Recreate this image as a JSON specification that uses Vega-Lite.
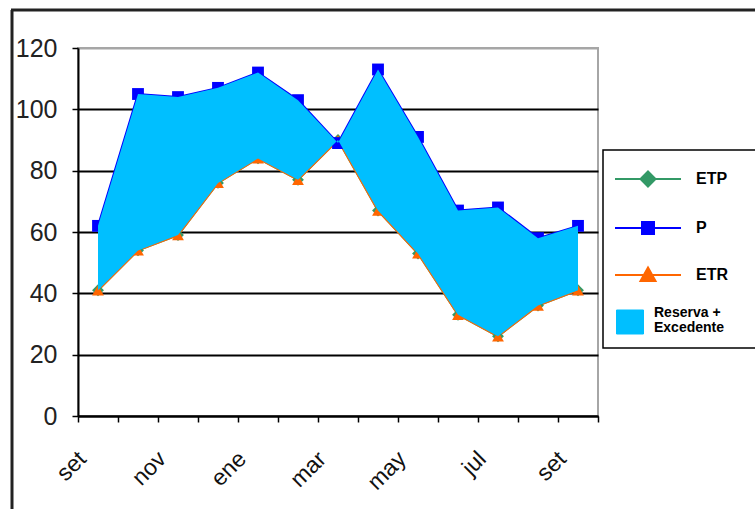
{
  "$schema": "https://vega.github.io/schema/vega-lite/v6.json",
  "width": 520,
  "height": 368,
  "autosize": {"type": "none"},
  "padding": {"left": 78, "top": 48, "right": 157, "bottom": 93},
  "background": "white",
  "config": {
    "font": "Liberation Sans",
    "view": {"stroke": "#a6a6a6", "strokeWidth": 2},
    "axisX": {
      "title": null,
      "grid": false,
      "domainColor": "#000",
      "domainWidth": 2,
      "tickColor": "#000",
      "tickWidth": 1.5,
      "tickSize": 6,
      "tickBand": "extent",
      "labelAngle": -45,
      "labelAlign": "right",
      "labelBaseline": "middle",
      "labelOffset": -16,
      "labelPadding": 33,
      "labelFont": "Liberation Sans",
      "labelFontSize": 23,
      "labelColor": "#111"
    },
    "axisY": {
      "title": null,
      "domainColor": "#000",
      "domainWidth": 2,
      "tickColor": "#000",
      "tickWidth": 1.5,
      "tickSize": 6,
      "labelPadding": 15,
      "labelFont": "Liberation Sans",
      "labelFontSize": 25,
      "labelColor": "#222",
      "gridWidth": 2,
      "gridOpacity": 1
    },
    "legend": {
      "title": null,
      "orient": "none",
      "legendX": 525,
      "legendY": 102,
      "padding": 12,
      "strokeColor": "#000",
      "strokeWidth": 1.5,
      "fillColor": "#fff",
      "symbolSize": 900,
      "symbolOffset": 25,
      "labelOffset": 40,
      "rowPadding": 20,
      "labelFont": "Liberation Sans",
      "labelFontSize": 16,
      "labelFontWeight": "bold",
      "labelColor": "#000",
      "labelLimit": 300
    }
  },
  "data": {
    "values": [
      {"mes": "set", "P": 62, "ETP": 41, "ETR": 41},
      {"mes": "oct", "P": 105, "ETP": 54, "ETR": 54},
      {"mes": "nov", "P": 104, "ETP": 59, "ETR": 59},
      {"mes": "dic", "P": 107, "ETP": 76, "ETR": 76},
      {"mes": "ene", "P": 112, "ETP": 84, "ETR": 84},
      {"mes": "feb", "P": 103, "ETP": 77, "ETR": 77},
      {"mes": "mar", "P": 89, "ETP": 90, "ETR": 90},
      {"mes": "abr", "P": 113, "ETP": 67, "ETR": 67},
      {"mes": "may", "P": 91, "ETP": 53, "ETR": 53},
      {"mes": "jun", "P": 67, "ETP": 33, "ETR": 33},
      {"mes": "jul", "P": 68, "ETP": 26, "ETR": 26},
      {"mes": "ago", "P": 58, "ETP": 36, "ETR": 36},
      {"mes": "set ", "P": 62, "ETP": 41, "ETR": 41}
    ]
  },
  "encoding": {
    "x": {
      "field": "mes",
      "type": "ordinal",
      "scale": {
        "type": "band",
        "paddingInner": 0,
        "paddingOuter": 0,
        "domain": ["set", "oct", "nov", "dic", "ene", "feb", "mar", "abr", "may", "jun", "jul", "ago", "set "]
      },
      "axis": {
        "labelExpr": "indexof(['set', 'nov', 'ene', 'mar', 'may', 'jul', 'set '], datum.value) >= 0 ? trim(datum.value) : ''"
      }
    }
  },
  "layer": [
    {
      "data": {"values": [{}]},
      "mark": {"type": "rule", "stroke": "#222", "strokeWidth": 3},
      "encoding": {
        "x": {"value": -66},
        "y": {"value": -38},
        "y2": {"value": 470}
      }
    },
    {
      "data": {"values": [{}]},
      "mark": {"type": "rule", "stroke": "#222", "strokeWidth": 3},
      "encoding": {
        "x": {"value": -67},
        "x2": {"value": 690},
        "y": {"value": -38}
      }
    },
    {
      "transform": [{"fold": ["ETP", "ETR", "P"], "as": ["serie", "valor"]}],
      "encoding": {
        "y": {
          "field": "valor",
          "type": "quantitative",
          "scale": {"domain": [0, 120], "nice": false},
          "axis": {
            "values": [0, 20, 40, 60, 80, 100, 120],
            "gridColor": {"condition": {"test": "datum.value === 120", "value": "#a6a6a6"}, "value": "#000"}
          }
        },
        "color": {
          "field": "serie",
          "type": "nominal",
          "scale": {
            "domain": ["ETP", "P", "ETR", "Reserva + Excedente"],
            "range": ["#339966", "#0000ff", "#ff6600", "#00bfff"]
          },
          "legend": {
            "labelExpr": "datum.label === 'Reserva + Excedente' ? ['Reserva +', 'Excedente'] : datum.label",
            "encode": {
              "symbols": {
                "update": {
                  "y": {"signal": "datum.value === 'Reserva + Excedente' ? 3 : 17"},
                  "shape": {"signal": "datum.value === 'ETP' ? 'M-2.2,0H2.2M0,-0.5L0.5,0L0,0.5L-0.5,0Z' : datum.value === 'P' ? 'M-2.2,0H2.2M-0.4,-0.4H0.4V0.4H-0.4Z' : datum.value === 'ETR' ? 'M-2.2,0H2.2M0,-0.5L0.5,0.4H-0.5Z' : 'M-2.1,-0.8H-0.3V0.8H-2.1ZM7,0'"},
                  "fill": {"signal": "scale('color', datum.value)"},
                  "stroke": {"signal": "datum.value === 'Reserva + Excedente' ? '#000' : scale('color', datum.value)"},
                  "strokeWidth": {"signal": "datum.value === 'Reserva + Excedente' ? 1 : 2"},
                  "opacity": {"value": 1}
                }
              },
              "labels": {
                "update": {
                  "y": {"signal": "datum.value === 'Reserva + Excedente' ? 3 : 17"},
                  "dx": {"signal": "datum.value === 'Reserva + Excedente' ? -42 : 0"},
                  "dy": {"signal": "datum.value === 'Reserva + Excedente' ? -9.5 : 0"},
                  "fontSize": {"signal": "datum.value === 'Reserva + Excedente' ? 14 : 16"},
                  "lineHeight": {"value": 15}
                }
              }
            }
          }
        },
        "order": {"value": null}
      },
      "layer": [
        {"mark": {"type": "line", "strokeWidth": 2}},
        {
          "mark": {"type": "point", "filled": true, "opacity": 1, "size": 140},
          "encoding": {
            "shape": {
              "field": "serie",
              "type": "nominal",
              "scale": {"domain": ["ETP", "P", "ETR"], "range": ["diamond", "square", "triangle-up"]},
              "legend": null
            }
          }
        }
      ]
    },
    {
      "mark": {"type": "area", "opacity": 1},
      "encoding": {
        "y": {"field": "ETR", "type": "quantitative"},
        "y2": {"field": "P"},
        "color": {"datum": "Reserva + Excedente"},
        "order": {"value": null}
      }
    }
  ]
}
